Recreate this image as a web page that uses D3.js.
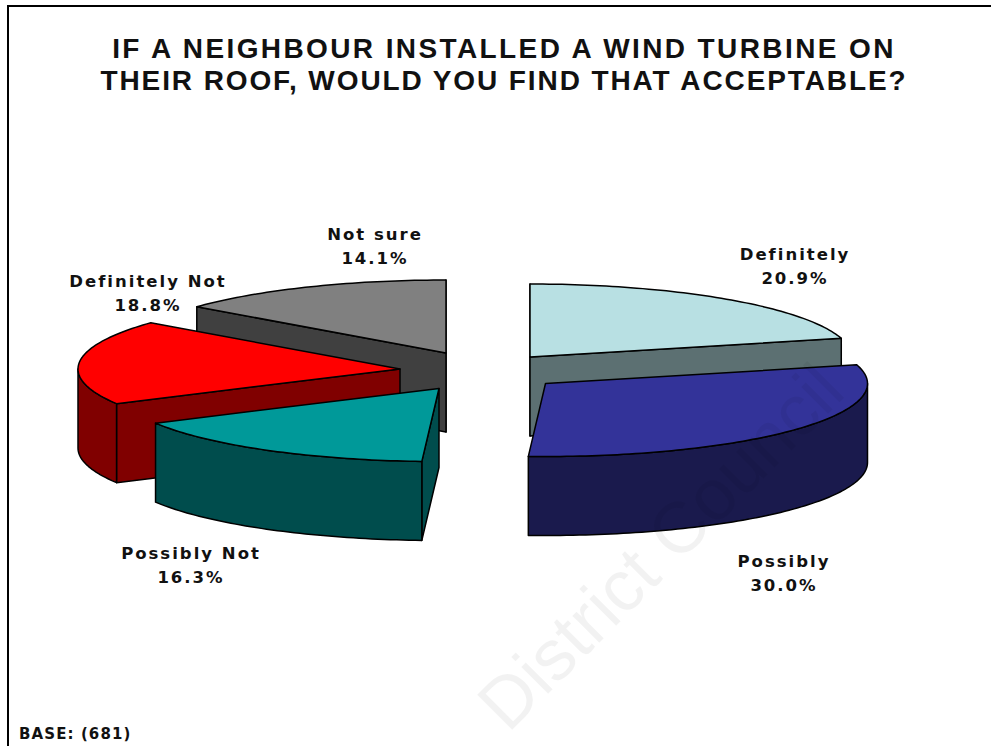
<!DOCTYPE html>
<html>
<head>
<meta charset="utf-8">
<script src="https://cdn.jsdelivr.net/npm/d3@7"></script>
<style>
  html, body { margin: 0; padding: 0; background: #fff; }
  text { font-family: "DejaVu Sans", Verdana, sans-serif; font-weight: bold; fill: #111; }
</style>
</head>
<body>
<div id="chart"></div>
<script>
const categories = ['Definitely', 'Possibly', 'Possibly Not', 'Definitely Not', 'Not sure'];
const percentages = [20.9, 30.0, 16.3, 18.8, 14.1];
const titleLines = [
  'IF A NEIGHBOUR INSTALLED A WIND TURBINE ON',
  'THEIR ROOF, WOULD YOU FIND THAT ACCEPTABLE?'
];
const baseLabel = 'BASE: (681)';
const watermark = 'District Council';

const topColours = ['#b8e0e3', '#333399', '#009999', '#ff0000', '#808080'];
const sideColours = ['#5c7072', '#1a1a4d', '#004d4d', '#800000', '#404040'];

// layout only: where each exploded slice has its apex, label centre
const apexX = [530, 545.5, 439, 400, 446];
const apexY = [357, 383.5, 388.5, 369, 353];
const labelX = [795, 784, 191, 148, 375];
const labelY = [260, 567, 559, 287, 240];
const titleSpacing = [2.4, 1.9];
const drawOrder = [4, 0, 3, 2, 1];

const width = 991, height = 746;
const rx = 322, ry = 73, depth = 79;

const svg = d3.select('#chart').append('svg')
  .attr('width', width)
  .attr('height', height)
  .style('display', 'block');

// frame
svg.append('path')
  .attr('d', `M8,${height}V6H${width}`)
  .attr('fill', 'none')
  .attr('stroke', '#000')
  .attr('stroke-width', 2);

titleLines.forEach((t, i) => {
  svg.append('text')
    .attr('x', 504)
    .attr('y', 57.5 + i * 32.5)
    .attr('text-anchor', 'middle')
    .style('font-family', '"Liberation Sans", Arial, sans-serif')
    .style('font-size', '28px')
    .style('letter-spacing', titleSpacing[i] + 'px')
    .text(t);
});

const slices = d3.pie().sort(null).value(d => d)(percentages);
const line = d3.line();

const ellipsePoint = (i, a, drop = 0) => [
  apexX[i] + rx * Math.sin(a),
  apexY[i] - ry * Math.cos(a) + drop
];

const arcPoints = (i, a0, a1, drop = 0) => {
  const n = Math.max(2, Math.ceil((a1 - a0) / 0.02));
  return d3.range(n + 1).map(k => ellipsePoint(i, a0 + (a1 - a0) * k / n, drop));
};

const cutFace = (i, a) => {
  const centre = [apexX[i], apexY[i]];
  const centreLow = [apexX[i], apexY[i] + depth];
  return [centre, ellipsePoint(i, a), ellipsePoint(i, a, depth), centreLow];
};

drawOrder.forEach(i => {
  const s = slices[i];
  const g = svg.append('g').attr('class', 'slice');
  const faces = [];

  if (Math.sin(s.endAngle) > 0.001) faces.push(cutFace(i, s.endAngle));
  if (Math.sin(s.startAngle) < -0.001) faces.push(cutFace(i, s.startAngle));

  // outer wall, only the part that faces the viewer
  const w0 = Math.max(s.startAngle, Math.PI / 2);
  const w1 = Math.min(s.endAngle, Math.PI * 1.5);
  if (w1 > w0) {
    faces.push(arcPoints(i, w0, w1).concat(arcPoints(i, w0, w1, depth).reverse()));
  }

  // the vertical back edge of a slice that starts or ends at 12 o'clock
  if (Math.abs(Math.sin(s.startAngle)) < 0.001) faces.unshift(cutFace(i, s.startAngle));
  if (Math.abs(Math.sin(s.endAngle)) < 0.001) faces.unshift(cutFace(i, s.endAngle));

  g.selectAll('path.side')
    .data(faces)
    .join('path')
    .attr('class', 'side')
    .attr('d', d => line(d) + 'Z')
    .attr('fill', sideColours[i])
    .attr('stroke', '#000')
    .attr('stroke-width', 1.5)
    .attr('stroke-linejoin', 'round');

  const top = [[apexX[i], apexY[i]]].concat(arcPoints(i, s.startAngle, s.endAngle));
  g.append('path')
    .attr('d', line(top) + 'Z')
    .attr('fill', topColours[i])
    .attr('stroke', '#000')
    .attr('stroke-width', 1.5)
    .attr('stroke-linejoin', 'round');
});

categories.forEach((c, i) => {
  const label = svg.append('text')
    .attr('text-anchor', 'middle')
    .style('font-size', '16.5px')
    .style('letter-spacing', '2px');
  label.append('tspan').attr('x', labelX[i]).attr('y', labelY[i]).text(c);
  label.append('tspan').attr('x', labelX[i]).attr('y', labelY[i] + 24)
    .text(d3.format('.1f')(percentages[i]) + '%');
});

svg.append('text')
  .attr('x', 19)
  .attr('y', 739)
  .style('font-size', '15px')
  .style('letter-spacing', '1.1px')
  .text(baseLabel);

svg.append('text')
  .attr('transform', 'translate(508,734) rotate(-45)')
  .style('font-family', '"Liberation Sans", Arial, sans-serif')
  .style('font-size', '72px')
  .style('font-weight', 'normal')
  .style('fill', 'rgba(0,0,0,0.05)')
  .text(watermark);
</script>
</body>
</html>
